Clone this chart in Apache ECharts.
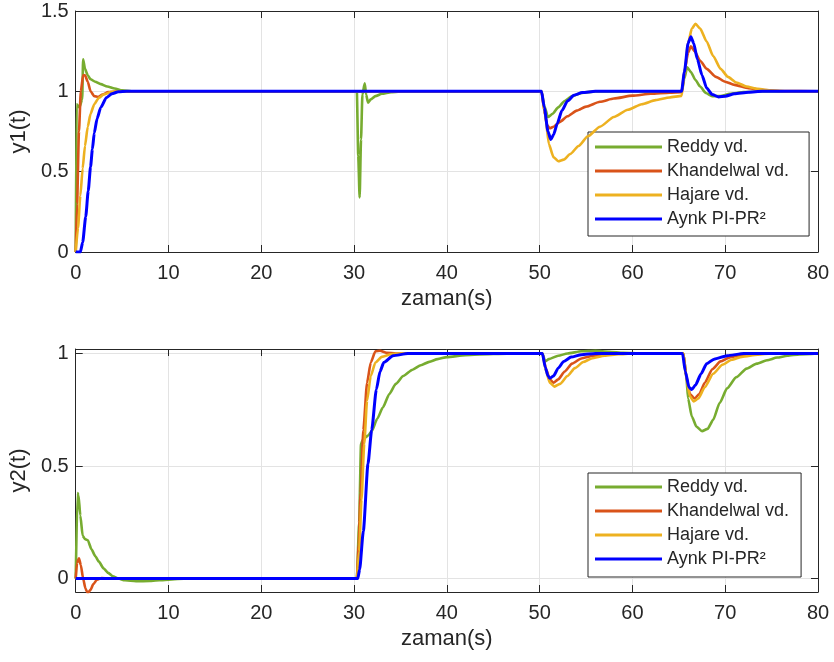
<!DOCTYPE html>
<html>
<head>
<meta charset="utf-8">
<script src="https://cdn.jsdelivr.net/npm/echarts@6/dist/echarts.min.js"></script>
<style>
  html, body { margin: 0; padding: 0; background: #fff; }
  #chart { width: 834px; height: 662px; }
</style>
</head>
<body>
<div id="chart"></div>
<script>
const names = ['Reddy vd.', 'Khandelwal vd.', 'Hajare vd.', 'Aynk PI-PR\u00B2'];
const colors = ['#77AC30', '#D95319', '#EDB120', '#0000FF'];
const xTicks = [0, 10, 20, 30, 40, 50, 60, 70, 80];
const y1Ticks = [0, 0.5, 1, 1.5];
const y2Ticks = [0, 0.5, 1];

// y1(t): [time, value]
const reddy1 = [[0,0],[0.1,0.92],[0.4,0.9],[0.7,0.95],[0.8,1.2],[1.0,1.14],[1.3,1.1],[1.6,1.075],[2.1,1.06],[2.7,1.045],[3.4,1.03],[4.2,1.018],[5,1.006],[6,1.0],
  [30.3,1.0],[30.45,0.6],[30.6,0.34],[30.75,0.7],[30.9,0.98],[31.15,1.05],[31.3,0.98],[31.5,0.93],[31.8,0.95],[32.3,0.97],[33,0.985],[34,0.995],[35.5,1.0],
  [50.2,1.0],[50.5,0.91],[50.9,0.84],[51.4,0.86],[52,0.9],[52.7,0.94],[53.5,0.97],[54.5,0.99],[56,1.0],
  [65.3,1.0],[65.6,1.08],[65.9,1.15],[66.3,1.12],[66.8,1.07],[67.3,1.03],[67.9,0.99],[68.6,0.97],[69.5,0.97],[70.5,0.985],[72,0.995],[74,1.0],[80,1.0]];
const khand1 = [[0,0],[0.15,0.3],[0.35,0.75],[0.55,1.0],[0.8,1.1],[1.0,1.1],[1.3,1.06],[1.6,1.0],[2.0,0.97],[2.4,0.965],[2.9,0.98],[3.5,0.995],[4.5,1.0],
  [50.2,1.0],[50.5,0.88],[50.8,0.79],[51.1,0.77],[51.5,0.78],[52.2,0.81],[53,0.845],[54,0.88],[55,0.905],[56.5,0.935],[58,0.955],[60,0.973],[62,0.985],[64,0.992],[65.3,0.995],
  [65.6,1.12],[66,1.24],[66.3,1.28],[66.7,1.25],[67.3,1.19],[68,1.14],[69,1.09],[70,1.06],[71,1.04],[72.5,1.02],[74,1.008],[76,1.002],[80,1.0]];
const hajare1 = [[0,0],[0.25,0.15],[0.5,0.35],[0.75,0.52],[1.0,0.66],[1.3,0.78],[1.6,0.86],[2.0,0.92],[2.5,0.96],[3.0,0.98],[3.8,0.995],[4.5,1.0],
  [50.2,1.0],[50.6,0.85],[51,0.67],[51.5,0.59],[52,0.565],[52.6,0.575],[53.3,0.61],[54.2,0.66],[55.2,0.72],[56.5,0.78],[58,0.84],[59.5,0.885],[61,0.92],[62.5,0.945],[64,0.962],[65.3,0.972],
  [65.6,1.1],[66,1.3],[66.4,1.39],[66.8,1.42],[67.3,1.39],[68,1.31],[68.7,1.22],[69.5,1.14],[70.3,1.09],[71.2,1.055],[72.3,1.03],[73.5,1.015],[75,1.005],[77,1.0],[80,1.0]];
const aynk1 = [[0,0],[0.5,0],[0.75,0.06],[1.08,0.22],[1.35,0.38],[1.6,0.53],[1.8,0.64],[2.0,0.74],[2.3,0.83],[2.7,0.9],[3.3,0.96],[3.9,0.985],[4.6,0.997],[5.5,1.0],
  [50.2,1.0],[50.5,0.9],[50.9,0.75],[51.2,0.7],[51.5,0.73],[51.9,0.8],[52.4,0.88],[53,0.94],[53.7,0.975],[54.6,0.992],[56,1.0],
  [65.3,1.0],[65.6,1.12],[66,1.3],[66.3,1.34],[66.6,1.3],[67,1.2],[67.5,1.1],[68,1.02],[68.6,0.98],[69.3,0.965],[70,0.97],[71,0.985],[72.5,0.995],[74,1.0],[80,1.0]];

// y2(t): [time, value]
const reddy2 = [[0,0],[0.2,0.38],[0.3,0.37],[0.5,0.28],[0.75,0.19],[1.0,0.175],[1.3,0.17],[1.7,0.13],[2.1,0.1],[2.5,0.075],[3,0.045],[3.5,0.025],[4,0.01],[4.6,0],[5.3,-0.008],[6.5,-0.012],[8,-0.011],[10,-0.005],[12,0],
  [30.3,0],[30.55,0.25],[30.75,0.6],[31.0,0.62],[31.5,0.635],[31.9,0.655],[32.5,0.71],[33.1,0.76],[33.8,0.82],[34.5,0.865],[35.3,0.9],[36.3,0.928],[37.2,0.948],[38.1,0.963],[39,0.975],[40,0.984],[42,0.993],[45,0.998],[48,1.0],
  [50.3,1.0],[50.6,0.965],[51,0.975],[52,0.99],[53,1.0],[54.5,1.01],[56,1.012],[57.5,1.008],[59,1.003],[61,1.0],
  [65.5,1.0],[65.8,0.9],[66.0,0.8],[66.4,0.72],[66.9,0.675],[67.5,0.655],[68.1,0.665],[68.7,0.705],[69.4,0.78],[70.2,0.845],[71.2,0.895],[72.3,0.933],[73.4,0.955],[74.5,0.97],[75.6,0.982],[76.7,0.99],[78,0.996],[80,1.0]];
const khand2 = [[0,0],[0.15,0.07],[0.35,0.09],[0.55,0.06],[0.8,0.0],[1.05,-0.045],[1.3,-0.065],[1.6,-0.05],[1.9,-0.025],[2.3,-0.005],[2.8,0.002],[3.5,0],
  [30.3,0],[30.5,0.15],[30.7,0.38],[31,0.66],[31.4,0.87],[31.8,0.96],[32.3,1.01],[32.8,1.012],[33.5,1.003],[34.5,1.0],
  [50.3,1.0],[50.7,0.93],[51.1,0.885],[51.5,0.87],[52,0.885],[52.7,0.92],[53.5,0.955],[54.5,0.978],[55.8,0.99],[57.5,0.998],[59,1.0],
  [65.5,1.0],[65.8,0.9],[66.2,0.82],[66.7,0.8],[67.2,0.82],[67.8,0.87],[68.6,0.93],[69.5,0.965],[70.5,0.983],[72,0.994],[74,1.0],[80,1.0]];
const hajare2 = [[0,0],[30.3,0],[30.55,0.12],[30.8,0.35],[31.1,0.6],[31.4,0.79],[31.8,0.9],[32.3,0.96],[33,0.985],[34,0.997],[35,1.0],
  [50.3,1.0],[50.7,0.92],[51.1,0.87],[51.6,0.853],[52.2,0.865],[53,0.9],[53.8,0.935],[54.7,0.962],[55.6,0.978],[57,0.99],[58.5,0.997],[60,1.0],
  [65.5,1.0],[65.8,0.89],[66.2,0.81],[66.6,0.787],[67.1,0.8],[67.8,0.85],[68.7,0.91],[69.7,0.95],[70.7,0.972],[71.8,0.985],[73.5,0.995],[75,1.0],[80,1.0]];
const aynk2 = [[0,0],[30.4,0],[30.6,0.04],[31.0,0.21],[31.5,0.51],[31.9,0.66],[32.4,0.84],[32.8,0.92],[33.2,0.96],[34.2,0.99],[35.8,1.0],
  [50.3,1.0],[50.6,0.94],[50.9,0.9],[51.1,0.89],[51.5,0.9],[52,0.935],[52.6,0.965],[53.4,0.984],[54.5,0.995],[56,1.0],
  [65.4,1.0],[65.7,0.92],[66.1,0.85],[66.4,0.84],[66.8,0.86],[67.4,0.91],[68,0.955],[68.8,0.975],[70.2,0.99],[72,1.0],[80,1.0]];

const top1 = [reddy1, khand1, hajare1, aynk1];
const bottom2 = [reddy2, khand2, hajare2, aynk2];

const font = 'Liberation Sans, Arial, Helvetica, sans-serif';
const ink = '#262626';
const gridColor = '#e3e3e3';

function xAxisPair(gridIndex) {
  const base = {
    type: 'value', gridIndex, min: 0, max: 80, interval: 10,
    axisLine: { show: true, onZero: false, lineStyle: { color: ink, width: 1 } },
    axisTick: { show: true, inside: true, length: 7, lineStyle: { color: ink } }
  };
  return [
    Object.assign({}, base, {
      position: 'bottom',
      name: 'zaman(s)', nameLocation: 'middle', nameGap: 36,
      nameTextStyle: { fontFamily: font, fontSize: 22, color: ink },
      axisLabel: { margin: 11, fontFamily: font, fontSize: 20, color: ink },
      splitLine: { show: true, lineStyle: { color: gridColor, width: 1 } }
    }),
    Object.assign({}, base, {
      position: 'top',
      axisLabel: { show: false },
      splitLine: { show: false }
    })
  ];
}

function yAxisPair(gridIndex, name, min, max, ticks) {
  const base = {
    type: 'value', gridIndex, min, max,
    axisLine: { show: true, onZero: false, lineStyle: { color: ink, width: 1 } },
    axisTick: { show: true, inside: true, length: 7, customValues: ticks, lineStyle: { color: ink } }
  };
  return [
    Object.assign({}, base, {
      position: 'left',
      name, nameLocation: 'middle', nameGap: 36,
      nameTextStyle: { fontFamily: font, fontSize: 22, color: ink },
      axisLabel: { margin: 7, fontFamily: font, fontSize: 20, color: ink, customValues: ticks },
      splitLine: { show: true, lineStyle: { color: gridColor, width: 1 } }
    }),
    Object.assign({}, base, {
      position: 'right',
      axisLabel: { show: false },
      splitLine: { show: false }
    })
  ];
}

function makeSeries(sets, axisIndex) {
  return sets.map((d, i) => ({
    name: names[i],
    type: 'line',
    xAxisIndex: axisIndex,
    yAxisIndex: axisIndex,
    data: d,
    showSymbol: false,
    symbol: 'none',
    smooth: 0.2,
    smoothMonotone: 'x',
    lineStyle: { color: colors[i], width: i === 3 ? 3 : 2.6 },
    itemStyle: { color: colors[i] },
    z: 2 + i
  }));
}

function legendBox(top, padding) {
  return {
    data: names,
    orient: 'vertical',
    left: 588, top,
    padding,
    itemGap: 6,
    itemWidth: 67,
    itemHeight: 3,
    icon: 'rect',
    backgroundColor: '#fff',
    borderColor: ink,
    borderWidth: 1,
    borderRadius: 0,
    selectedMode: false,
    textStyle: { fontFamily: font, fontSize: 18, color: ink }
  };
}

const chart = echarts.init(document.getElementById('chart'));
chart.setOption({
  animation: false,
  backgroundColor: '#fff',
  grid: [
    { left: 75, right: 16, top: 11, height: 241 },
    { left: 75, right: 16, top: 349, height: 243 }
  ],
  xAxis: [...xAxisPair(0), ...xAxisPair(1)],
  yAxis: [...yAxisPair(0, 'y1(t)', 0, 1.5, y1Ticks), ...yAxisPair(1, 'y2(t)', -0.06, 1.02, y2Ticks)],
  legend: [legendBox(132, [6, 20, 8, 7]), legendBox(473, [5, 12, 9, 7])],
  series: [...makeSeries(top1, 0), ...makeSeries(bottom2, 2)]
});
</script>
</body>
</html>
